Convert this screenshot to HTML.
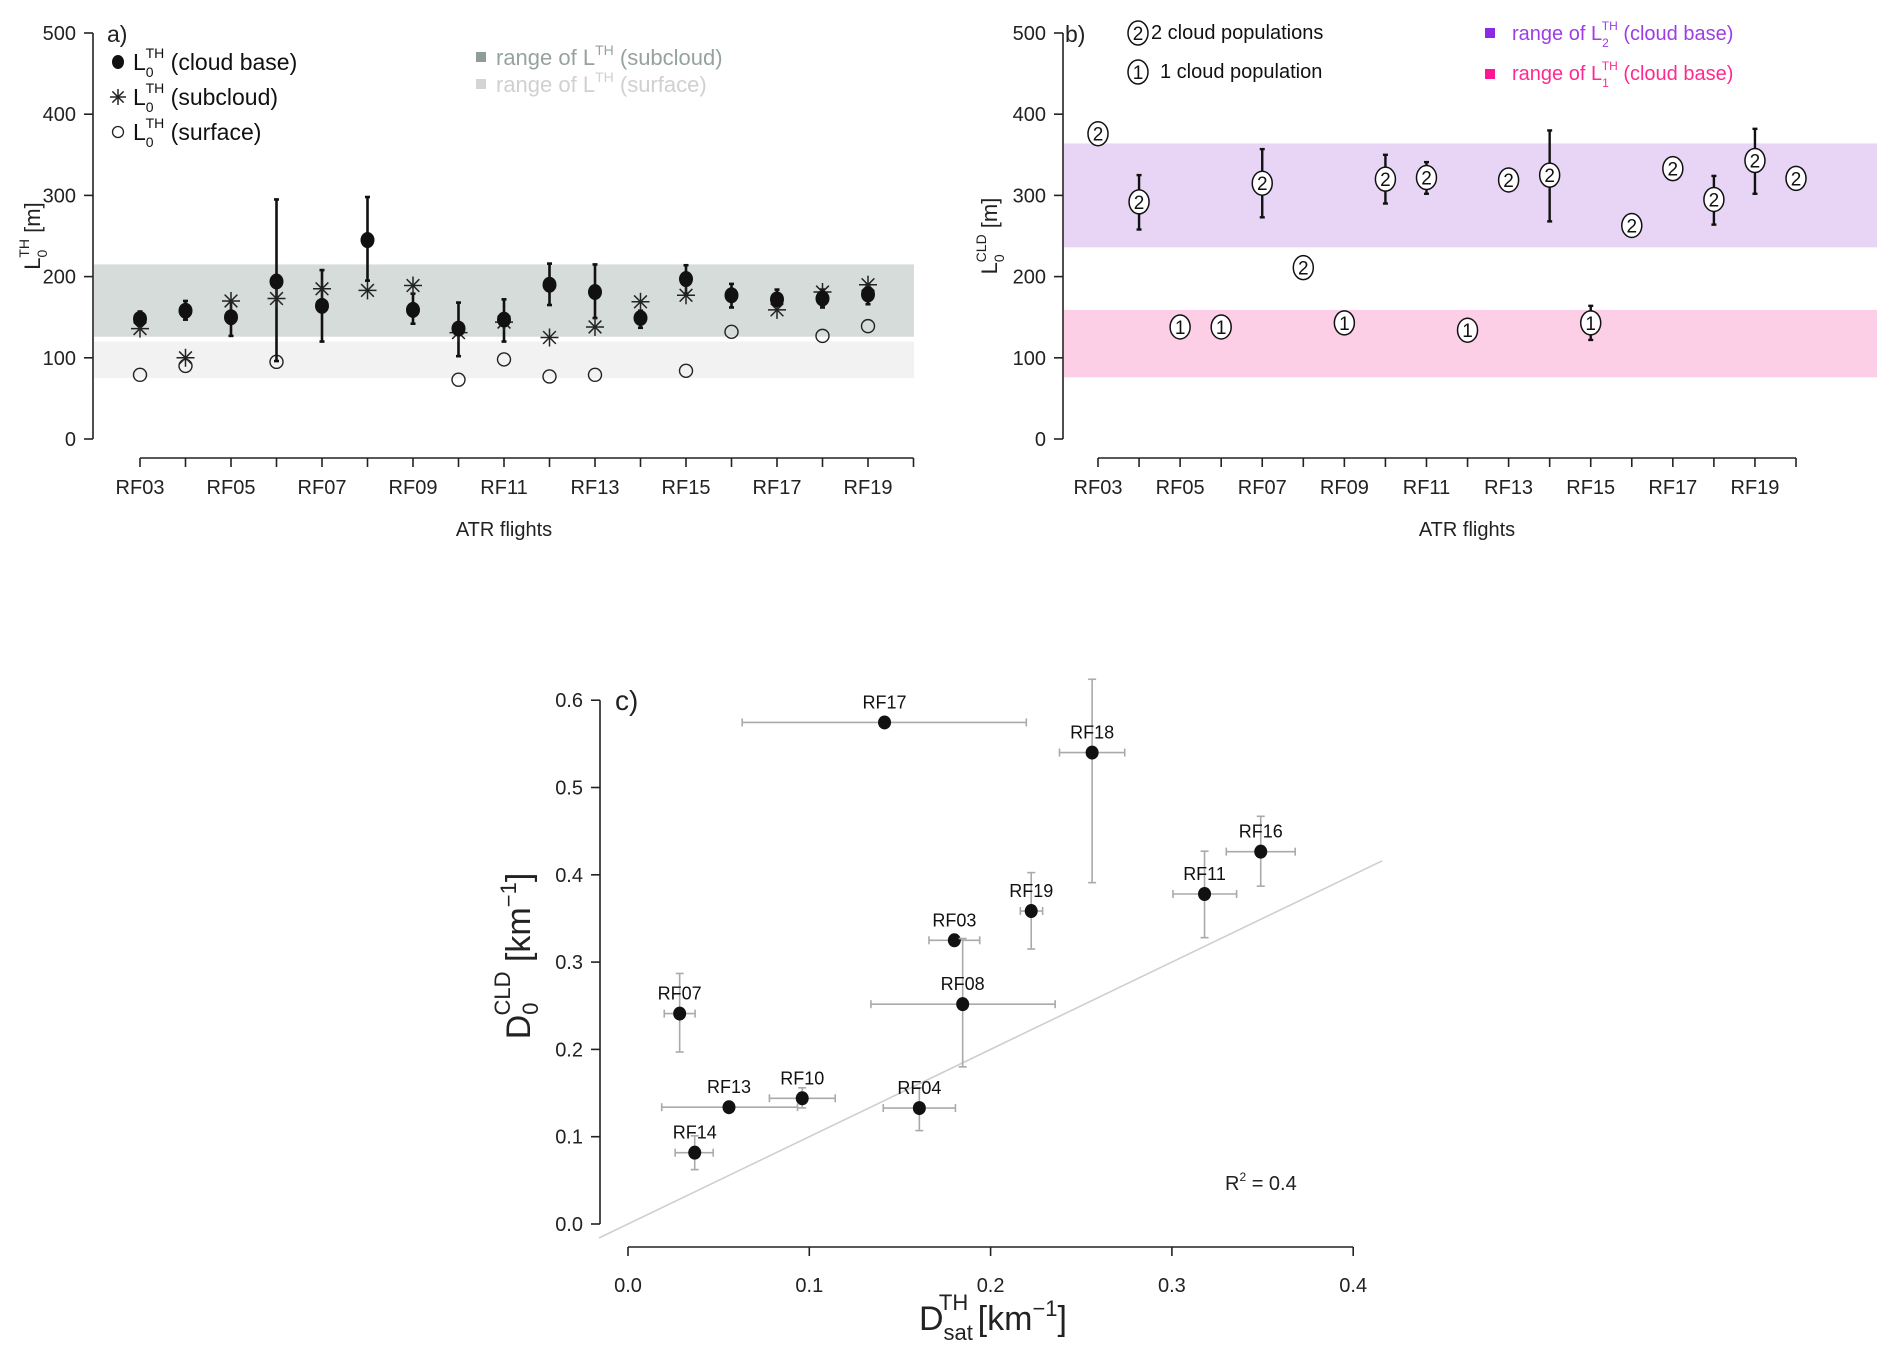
<!DOCTYPE html>
<html><head><meta charset="utf-8"><style>
html,body{margin:0;padding:0;background:#fff}
svg{display:block;font-family:"Liberation Sans",sans-serif}
</style></head><body>
<svg id="fig" width="1892" height="1357" viewBox="0 0 1892 1357" xmlns="http://www.w3.org/2000/svg">
<g id="pa"></g>
<g id="pb"></g>
<g id="pc"></g>
</svg>
<script>
// ---------- data ----------
const flights = ["RF03","RF04","RF05","RF06","RF07","RF08","RF09","RF10","RF11","RF12","RF13","RF14","RF15","RF16","RF17","RF18","RF19"];
const tickFlightsA = ["RF03","RF05","RF07","RF09","RF11","RF13","RF15","RF17","RF19"];
const yTicksAB = [0,100,200,300,400,500];
const cloudBase = [148,158,150,194,164,245,159,136,147,190,181,149,197,177,172,173,178];
const cloudBaseLo = [140,147,127,96,120,195,142,102,120,165,149,137,179,162,164,162,166];
const cloudBaseHi = [157,170,169,295,208,298,179,168,172,216,215,158,214,191,184,184,190];
const subcloud = [136,100,170,173,185,183,189,131,144,125,138,169,177,null,159,181,190];
const surface = [79,90,null,95,null,null,null,73,98,77,79,null,84,132,null,127,139];
const subcloudRange = [126,215];
const surfaceRange = [75,120];

const flightsB = ["RF03","RF04","RF05","RF06","RF07","RF08","RF09","RF10","RF11","RF12","RF13","RF14","RF15","RF16","RF17","RF18","RF19","RF20"];
const popB = [2,2,1,1,2,2,1,2,2,1,2,2,1,2,2,2,2,2];
const valB = [376,292,138,138,315,211,143,320,322,134,319,325,143,263,333,295,343,321];
const loB = [null,258,null,null,273,null,null,290,302,null,null,268,122,null,null,264,302,null];
const hiB = [null,325,null,null,357,null,null,350,341,null,null,380,164,null,null,324,382,null];
const range2 = [236,364];
const range1 = [76,159];

const labelsC = ["RF17","RF18","RF16","RF11","RF19","RF03","RF08","RF07","RF10","RF13","RF04","RF14"];
const xC = [0.1415,0.256,0.349,0.318,0.2224,0.180,0.1846,0.0285,0.0961,0.0557,0.1607,0.0368];
const yC = [0.5745,0.540,0.4265,0.378,0.3585,0.325,0.2518,0.241,0.144,0.1338,0.1328,0.0817];
const xLoC = [0.063,0.238,0.330,0.3006,0.2164,0.166,0.134,0.020,0.078,0.0186,0.1408,0.026];
const xHiC = [0.2197,0.274,0.368,0.3357,0.2287,0.194,0.2356,0.037,0.1143,0.0935,0.1806,0.047];
const yLoC = [null,0.391,0.387,0.328,0.315,null,0.180,0.197,0.133,null,0.107,0.0623];
const yHiC = [null,0.624,0.467,0.427,0.4025,null,0.327,0.287,0.156,null,0.156,0.101];
const xTicksC = [0.0,0.1,0.2,0.3,0.4];
const yTicksC = [0.0,0.1,0.2,0.3,0.4,0.5,0.6];
const fitLine = [-0.016,0.416];

const NS="http://www.w3.org/2000/svg";
function mk(parent,tag,attrs,text){const e=document.createElementNS(NS,tag);for(const k in attrs)e.setAttribute(k,attrs[k]);if(text!==undefined)e.textContent=text;parent.appendChild(e);return e;}

// ---------- panel a ----------
const pa=document.getElementById('pa');
const ayA=v=>439-v*0.812;
const axA=i=>140+i*45.5;
let e;
e=mk(pa,'rect',{x:94,y:ayA(subcloudRange[1]),width:820,height:ayA(subcloudRange[0])-ayA(subcloudRange[1]),fill:'#d5dcda'});


e=mk(pa,'rect',{x:94,y:ayA(surfaceRange[1]),width:820,height:ayA(surfaceRange[0])-ayA(surfaceRange[1]),fill:'#f2f2f2'});


function yAxis(g,x,fn,ticks,fmt,name){
  const a=mk(g,'g',{});
  
  
  mk(a,'line',{x1:x,x2:x,y1:fn(ticks[0]),y2:fn(ticks[ticks.length-1]),stroke:'#222','stroke-width':1.6});
  ticks.forEach(t=>{mk(a,'line',{x1:x-9,x2:x,y1:fn(t),y2:fn(t),stroke:'#222','stroke-width':1.6});
    mk(a,'text',{x:x-17,y:fn(t)+7,'text-anchor':'end','font-size':20,fill:'#222'},fmt(t));});
}
yAxis(pa,93,ayA,yTicksAB,t=>String(t),'y-axis-a');
function xAxisFlights(g,fn,n,labels,y,name,tickLabels){
  const a=mk(g,'g',{});
  
  
  mk(a,'line',{x1:fn(0),x2:fn(n),y1:y,y2:y,stroke:'#222','stroke-width':1.6});
  for(let i=0;i<=n;i++)mk(a,'line',{x1:fn(i),x2:fn(i),y1:y,y2:y+9,stroke:'#222','stroke-width':1.6});
  labels.forEach((l,i)=>{if(tickLabels.includes(l))mk(a,'text',{x:fn(i),y:y+36,'text-anchor':'middle','font-size':20,fill:'#222'},l);});
}
xAxisFlights(pa,axA,17,flights,458,'x-axis-a',tickFlightsA);
e=mk(pa,'text',{x:504,y:536,'text-anchor':'middle','font-size':20,fill:'#222'},'ATR flights');


e=mk(pa,'text',{x:107,y:42,'font-size':23,fill:'#222'},'a)');


e=mk(pa,'text',{transform:'translate(40,236) rotate(-90)','text-anchor':'middle','font-size':22,fill:'#222'});
e.innerHTML='L<tspan font-size="14" dy="7">0</tspan><tspan font-size="14" dx="-8" dy="-18">TH</tspan><tspan dy="11"> [m]</tspan>';


function star(g,x,y,r){for(let k=0;k<4;k++){const a=k*Math.PI/4;mk(g,'line',{x1:x-r*Math.cos(a),y1:y-r*Math.sin(a),x2:x+r*Math.cos(a),y2:y+r*Math.sin(a),stroke:'#222','stroke-width':1.5});}}
function errbar(g,x,y1,y2,col,w,cap){mk(g,'line',{x1:x,x2:x,y1:y1,y2:y2,stroke:col,'stroke-width':w});
  mk(g,'line',{x1:x-cap,x2:x+cap,y1:y1,y2:y1,stroke:col,'stroke-width':w});mk(g,'line',{x1:x-cap,x2:x+cap,y1:y2,y2:y2,stroke:col,'stroke-width':w});}
flights.forEach((f,i)=>{
  const x=axA(i);
  const g=mk(pa,'g',{});
  
  
  if(surface[i]!==null)mk(g,'circle',{cx:x,cy:ayA(surface[i]),r:6.5,fill:'none',stroke:'#222','stroke-width':1.4});
  errbar(g,x,ayA(cloudBaseLo[i]),ayA(cloudBaseHi[i]),'#111',2.6,2.5);
  if(subcloud[i]!==null)star(g,x,ayA(subcloud[i]),9);
  mk(g,'ellipse',{cx:x,cy:ayA(cloudBase[i]),rx:7,ry:8,fill:'#111'});
});
// legend a
const la=mk(pa,'g',{});


mk(la,'ellipse',{cx:118,cy:62,rx:6,ry:7,fill:'#111'});
star(la,118,97,8);
mk(la,'circle',{cx:118,cy:132,r:5.5,fill:'none',stroke:'#222','stroke-width':1.3});
[['(cloud base)',70],['(subcloud)',105],['(surface)',140]].forEach(([t,y])=>{
  const tx=mk(la,'text',{x:133,y:y,'font-size':23,fill:'#111'});
  tx.innerHTML='L<tspan font-size="14" dy="7">0</tspan><tspan font-size="14" dx="-8" dy="-19">TH</tspan><tspan dy="12"> '+t+'</tspan>';
});
mk(la,'rect',{x:476,y:52,width:10,height:10,fill:'#8f9d99'});
mk(la,'rect',{x:476,y:79,width:10,height:10,fill:'#d4d4d4'});
let t1=mk(la,'text',{x:496,y:65,'font-size':22,fill:'#95a39f'});t1.innerHTML='range of L<tspan font-size="14" dy="-10">TH</tspan><tspan dy="10"> (subcloud)</tspan>';
let t2=mk(la,'text',{x:496,y:92,'font-size':22,fill:'#d0d0d0'});t2.innerHTML='range of L<tspan font-size="14" dy="-10">TH</tspan><tspan dy="10"> (surface)</tspan>';

// ---------- panel b ----------
const pb=document.getElementById('pb');
const axB=i=>1098+i*41.06;
e=mk(pb,'rect',{x:1064,y:ayA(range2[1]),width:813,height:ayA(range2[0])-ayA(range2[1]),fill:'#e8d5f6'});


e=mk(pb,'rect',{x:1064,y:ayA(range1[1]),width:813,height:ayA(range1[0])-ayA(range1[1]),fill:'#fdcfe7'});


yAxis(pb,1063,ayA,yTicksAB,t=>String(t),'y-axis-b');
xAxisFlights(pb,axB,17,flightsB,458,'x-axis-b',tickFlightsA);
e=mk(pb,'text',{x:1467,y:536,'text-anchor':'middle','font-size':20,fill:'#222'},'ATR flights');


e=mk(pb,'text',{x:1065,y:42,'font-size':23,fill:'#222'},'b)');


e=mk(pb,'text',{transform:'translate(997,236) rotate(-90)','text-anchor':'middle','font-size':22,fill:'#222'});
e.innerHTML='L<tspan font-size="14" dy="7">0</tspan><tspan font-size="14" dx="-8" dy="-18">CLD</tspan><tspan dy="11"> [m]</tspan>';


function circNum(g,x,y,n){mk(g,'ellipse',{cx:x,cy:y,rx:10,ry:12,fill:'#fff',stroke:'#111','stroke-width':1.5});
  mk(g,'text',{x:x,y:y+7,'text-anchor':'middle','font-size':19,fill:'#111'},String(n));}
flightsB.forEach((f,i)=>{
  const x=axB(i);
  const g=mk(pb,'g',{});
  
  
  if(loB[i]!==null)errbar(g,x,ayA(loB[i]),ayA(hiB[i]),'#111',2.4,2.5);
  circNum(g,x,ayA(valB[i]),popB[i]);
});
const lb=mk(pb,'g',{});


circNum(lb,1138,33,2);
mk(lb,'text',{x:1151,y:39,'font-size':20,fill:'#111'},'2 cloud populations');
circNum(lb,1138,72,1);
mk(lb,'text',{x:1160,y:78,'font-size':20,fill:'#111'},'1 cloud population');
mk(lb,'rect',{x:1485,y:28,width:10,height:10,fill:'#8a2be2'});
mk(lb,'rect',{x:1485,y:69,width:10,height:10,fill:'#ff1493'});
let t3=mk(lb,'text',{x:1512,y:40,'font-size':20,fill:'#9b3ee6'});t3.innerHTML='range of L<tspan font-size="12" dy="7">2</tspan><tspan font-size="12" dx="-7" dy="-17">TH</tspan><tspan dy="10"> (cloud base)</tspan>';
let t4=mk(lb,'text',{x:1512,y:80,'font-size':20,fill:'#ff2a8f'});t4.innerHTML='range of L<tspan font-size="12" dy="7">1</tspan><tspan font-size="12" dx="-7" dy="-17">TH</tspan><tspan dy="10"> (cloud base)</tspan>';

// ---------- panel c ----------
const pc=document.getElementById('pc');
const xc=v=>628+v*1813;
const yc=v=>1224-v*873;
e=mk(pc,'line',{x1:xc(fitLine[0]),y1:yc(fitLine[0]),x2:xc(fitLine[1]),y2:yc(fitLine[1]),stroke:'#cfcfcf','stroke-width':1.6});


yAxis(pc,600,yc,yTicksC,t=>t.toFixed(1),'y-axis-c');
const xa=mk(pc,'g',{});


mk(xa,'line',{x1:xc(0),x2:xc(0.4),y1:1247,y2:1247,stroke:'#222','stroke-width':1.6});
xTicksC.forEach(t=>{mk(xa,'line',{x1:xc(t),x2:xc(t),y1:1247,y2:1256,stroke:'#222','stroke-width':1.6});
  mk(xa,'text',{x:xc(t),y:1292,'text-anchor':'middle','font-size':20,fill:'#222'},t.toFixed(1));});
labelsC.forEach((l,i)=>{
  const g=mk(pc,'g',{});
  
  
  const x=xc(xC[i]),y=yc(yC[i]);
  mk(g,'line',{x1:xc(xLoC[i]),x2:xc(xHiC[i]),y1:y,y2:y,stroke:'#aaa','stroke-width':1.6});
  mk(g,'line',{x1:xc(xLoC[i]),x2:xc(xLoC[i]),y1:y-4,y2:y+4,stroke:'#aaa','stroke-width':1.6});
  mk(g,'line',{x1:xc(xHiC[i]),x2:xc(xHiC[i]),y1:y-4,y2:y+4,stroke:'#aaa','stroke-width':1.6});
  if(yLoC[i]!==null){mk(g,'line',{x1:x,x2:x,y1:yc(yLoC[i]),y2:yc(yHiC[i]),stroke:'#aaa','stroke-width':1.6});
    mk(g,'line',{x1:x-4,x2:x+4,y1:yc(yLoC[i]),y2:yc(yLoC[i]),stroke:'#aaa','stroke-width':1.6});
    mk(g,'line',{x1:x-4,x2:x+4,y1:yc(yHiC[i]),y2:yc(yHiC[i]),stroke:'#aaa','stroke-width':1.6});}
  mk(g,'ellipse',{cx:x,cy:y,rx:6.5,ry:7,fill:'#111'});
  mk(g,'text',{x:x,y:y-14,'text-anchor':'middle','font-size':18,fill:'#111'},l);
});
e=mk(pc,'text',{x:615,y:710,'font-size':28,fill:'#222'},'c)');


e=mk(pc,'text',{x:1225,y:1190,'font-size':20,fill:'#222'});
e.innerHTML='R<tspan font-size="12" dy="-9">2</tspan><tspan dy="9"> = 0.4</tspan>';


e=mk(pc,'text',{transform:'translate(530,956) rotate(-90)','text-anchor':'middle','font-size':34,fill:'#222'});
e.innerHTML='D<tspan font-size="22" dy="8">0</tspan><tspan font-size="22" dx="-13" dy="-28">CLD</tspan><tspan dy="20"> [km</tspan><tspan font-size="22" dy="-14">−1</tspan><tspan dy="14">]</tspan>';


e=mk(pc,'text',{x:993,y:1330,'text-anchor':'middle','font-size':34,fill:'#222'});
e.innerHTML='D<tspan font-size="22" dy="10">sat</tspan><tspan font-size="22" dx="-34" dy="-30">TH</tspan><tspan dy="20"> [km</tspan><tspan font-size="22" dy="-14">−1</tspan><tspan dy="14">]</tspan>';


</script>
</body></html>
